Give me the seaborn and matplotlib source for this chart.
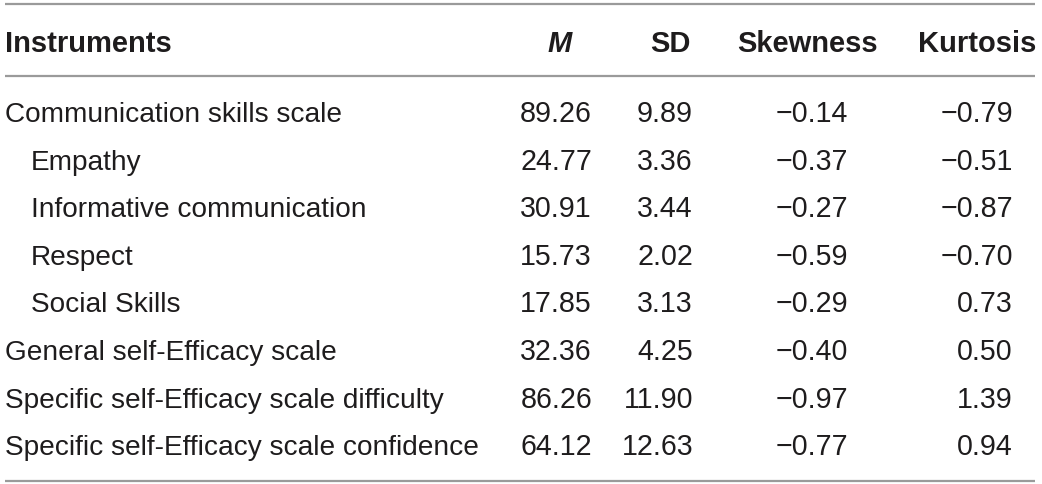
import matplotlib
matplotlib.use("Agg")
import matplotlib.pyplot as plt
import seaborn as sns

# %% TABLE DATA

instruments = [
    "Communication skills scale",
    "Empathy",
    "Informative communication",
    "Respect",
    "Social Skills",
    "General self-Efficacy scale",
    "Specific self-Efficacy scale difficulty",
    "Specific self-Efficacy scale confidence",
]
is_subscale = [False, True, True, True, True, False, False, False]
mean_vals = [89.26, 24.77, 30.91, 15.73, 17.85, 32.36, 86.26, 64.12]
sd_vals = [9.89, 3.36, 3.44, 2.02, 3.13, 4.25, 11.90, 12.63]
skew_vals = [-0.14, -0.37, -0.27, -0.59, -0.29, -0.40, -0.97, -0.77]
kurt_vals = [-0.79, -0.51, -0.87, -0.70, 0.73, 0.50, 1.39, 0.94]

headers = ["Instruments", "M", "SD", "Skewness", "Kurtosis"]

# %% LAYOUT (pixel space)

W, H = 1042, 485
header_x = [5, 560, 670, 808, 977]
value_right = [592, 693, 848, 1013]
row0, row_step, header_base = 122, 47.6, 52
rule_y = [5, 77, 482]
text_col = "#1e1c1d"
rule_col = "#9a9a9a"


def fmt(v):
    s = f"{abs(v):.2f}"
    return ("\u2212" + s) if v < 0 else s


sns.set_theme(style="white")
plt.rcParams["font.family"] = ["Liberation Sans", "DejaVu Sans"]

fig = plt.figure(figsize=(W / 100, H / 100), dpi=100)
ax = fig.add_axes([0, 0, 1, 1])
ax.set_xlim(0, W)
ax.set_ylim(H, 0)
ax.axis("off")

for y in rule_y:
    ax.plot([5, 1035], [y, y], color=rule_col, lw=1.6, solid_capstyle="butt")

for i, h in enumerate(headers):
    ax.text(header_x[i], header_base, h, ha="left" if i == 0 else "center",
            va="baseline", fontsize=21, fontweight="bold", color=text_col,
            fontstyle="italic" if h == "M" else "normal")

columns = [mean_vals, sd_vals, skew_vals, kurt_vals]
for r, name in enumerate(instruments):
    y = row0 + r * row_step
    ax.text(31 if is_subscale[r] else 5, y, name, ha="left", va="baseline",
            fontsize=20.2, color=text_col)
    for c, col in enumerate(columns):
        ax.text(value_right[c], y, fmt(col[r]), ha="right", va="baseline",
                fontsize=20.6, color=text_col)

fig.savefig("out.png", dpi=100)
